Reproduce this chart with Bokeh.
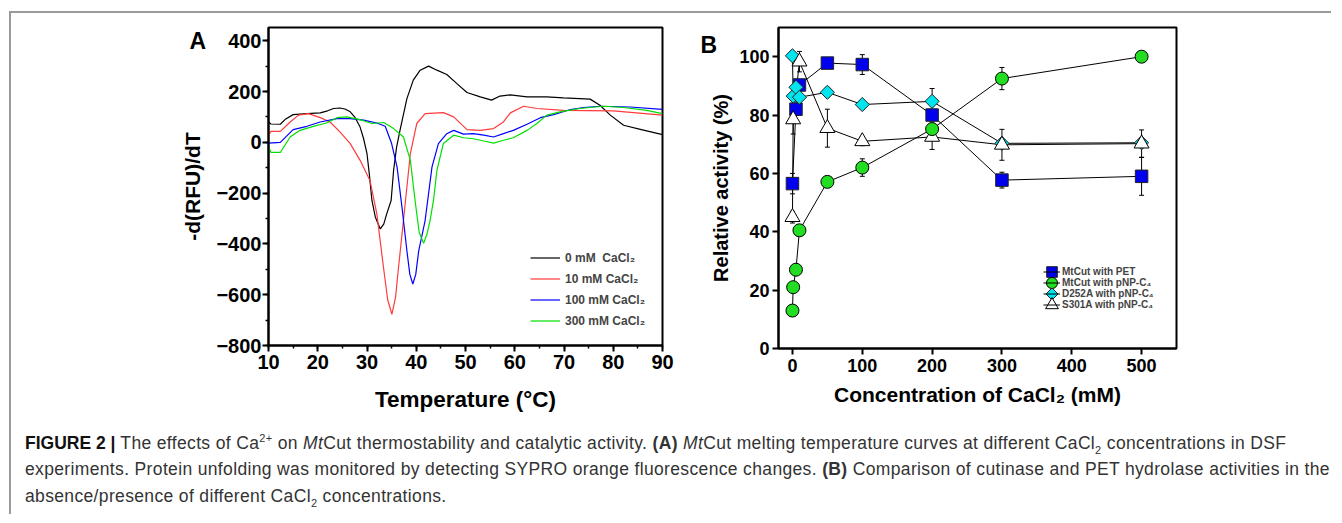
import math
from bokeh.plotting import figure
from bokeh.models import (Legend, LegendItem, Whisker, TeeHead, ColumnDataSource,
                          Div, FixedTicker, SingleIntervalTicker, Range1d)
from bokeh.layouts import row, column
from bokeh.embed import file_html
from bokeh.resources import INLINE

FONT = "Liberation Sans"

# ---------------- Panel A data: -d(RFU)/dT vs temperature ----------------
temp_0mM = [10, 10.5, 12.4, 13.5, 15, 17.8, 20.5, 22, 23.2, 24.5, 25.5, 26.6, 27.6, 28.6, 29.3, 30,
            30.5, 31, 31.7, 32.7, 33.4, 34, 34.9, 35.4, 36, 36.7, 38.1, 39.4, 40.8, 42.5, 44.2, 46.2,
            48.2, 50.3, 53, 55.3, 57, 59.1, 62.5, 66.5, 69.9, 75.3, 77.3, 79.4, 82.1, 85.5, 90]
drv_0mM = [80, 72, 71, 92, 109, 113, 116, 124, 133, 135, 131, 120, 97, 60, 15, -45,
           -130, -229, -295, -341, -322, -282, -229, -111, -20, 47, 172, 245, 284, 300, 284, 267,
           232, 196, 179, 166, 182, 187, 179, 179, 175, 170, 146, 107, 67, 51, 30]

temp_10mM = [10, 10.5, 12.4, 14.4, 16.1, 18.1, 20.5, 22.5, 24.5, 26.6, 28.6, 30.6, 32, 33.35, 34.2,
             35.05, 35.8, 36.4, 37.4, 38.8, 40.1, 41.8, 45.5, 47.6, 50.3, 53, 55.7, 57.7, 59.1,
             61.8, 64.5, 69.9, 80, 90]
drv_10mM = [28, 43, 43, 80, 107, 113, 97, 80, 41, -5, -71, -150, -282, -493, -620,
            -677, -610, -493, -308, -45, 74, 113, 117, 100, 50, 47, 54, 80, 116,
            142, 133, 126, 124, 107]

temp_100mM = [10, 12.4, 15, 17.8, 20.5, 23.9, 26.6, 29.3, 32, 33.7, 35, 36.1, 37.1, 38.1, 38.7,
              39.3, 39.9, 40.5, 41.8, 43.2, 44.5, 46.2, 47.6, 49.6, 51.6, 53.7, 55.7, 57.7, 59.7,
              62.5, 65.2, 67.9, 71.3, 74, 77.3, 83.4, 90]
drv_100mM = [-3, 0, 50, 63, 80, 93, 93, 87, 76, 63, -5, -97, -255, -427, -520,
             -558, -520, -427, -308, -97, -5, 34, 47, 32, 34, 28, 21, 34, 47,
             71, 97, 109, 129, 137, 142, 139, 130]

temp_300mM = [10, 10.5, 12.4, 14.4, 16.4, 19.1, 21.8, 23.9, 25.9, 28.6, 31, 33.4, 35.4, 37.4, 38.8,
              39.8, 40.6, 41.5, 42.2, 42.8, 43.5, 44.2, 45.5, 47.6, 49.6, 51.6, 53.7, 55.7, 57.7,
              59.7, 62.5, 64.5, 66.5, 69.2, 73.2, 78, 82.1, 86.8, 90]
drv_300mM = [-15, -40, -40, 21, 47, 63, 76, 97, 100, 89, 74, 78, 54, 21, -71,
             -235, -355, -398, -360, -308, -229, -110, -5, 28, 18, 14, 5, -3, 8,
             18, 47, 74, 107, 120, 133, 142, 137, 126, 113]

series_A_labels = ["0 mM  CaCl\u2082", "10 mM CaCl\u2082", "100 mM CaCl\u2082", "300 mM CaCl\u2082"]
series_A_colors = ["#000000", "#ff3b3b", "#0000ff", "#00e000"]

# ---------------- Panel B data: relative activity vs CaCl2 ----------------
conc_pet = [0, 5, 10, 50, 100, 200, 300, 500]
act_pet = [56.5, 82, 90.3, 97.8, 97.3, 80, 57.7, 59]
err_pet = [3.5, 2, 1.5, 1.5, 3.4, 2, 2.7, 6.5]

conc_c4 = [0, 1, 5, 10, 50, 100, 200, 300, 500]
act_c4 = [13, 21, 27, 40.5, 57.1, 62, 75.2, 92.5, 100]
err_c4 = [1.5, 1.5, 1.5, 1, 1, 3, 2, 3.8, 0.5]

conc_d252a = [0, 1, 5, 10, 50, 100, 200, 300, 500]
act_d252a = [100.3, 86.5, 89.5, 86.1, 87.8, 83.6, 84.7, 70.3, 70.5]
err_d252a = [0.5, 1.5, 1.5, 1.5, 1.5, 1.5, 4.4, 1, 1]

conc_s301a = [0, 1, 10, 50, 100, 200, 300, 500]
act_s301a = [45, 78.5, 98.3, 75.5, 71, 72.5, 69.8, 70.2]
err_s301a = [2, 5, 3.5, 6.5, 1.5, 4.3, 5.3, 4.7]

series_B_labels = ["MtCut with PET", "MtCut with pNP-C\u2084", "D252A with pNP-C\u2084", "S301A with pNP-C\u2084"]


def style_axes(p, tick_size, xlabel_size, ylabel_size):
    for ax in (p.xaxis[0], p.yaxis[0]):
        ax.axis_line_width = 2
        ax.major_tick_line_width = 2
        ax.minor_tick_line_width = 1.5
        ax.major_tick_in = 0
        ax.major_tick_out = 6
        ax.minor_tick_in = 0
        ax.minor_tick_out = 3
        ax.major_label_text_font = FONT
        ax.major_label_text_font_style = "bold"
        ax.major_label_text_font_size = tick_size
        ax.major_label_text_color = "black"
        ax.axis_label_text_font = FONT
        ax.axis_label_text_font_style = "bold"
        ax.axis_label_text_color = "black"
    p.xaxis.axis_label_text_font_size = xlabel_size
    p.yaxis.axis_label_text_font_size = ylabel_size
    p.xgrid.visible = False
    p.ygrid.visible = False
    p.outline_line_color = "black"
    p.outline_line_width = 2
    p.outline_line_alpha = 1


def panel_letter(p, letter, offset, standoff):
    p.title.text = letter
    p.title.align = "left"
    p.title.offset = offset
    p.title.standoff = standoff
    p.title.vertical_align = "bottom"
    p.title.text_font = FONT
    p.title.text_font_style = "bold"
    p.title.text_font_size = "23px"
    p.title.text_color = "black"


# ---------------- Panel A ----------------
pA = figure(frame_width=394, frame_height=318, min_border_left=257, min_border_right=38,
            min_border_top=14, min_border_bottom=75,
            x_range=Range1d(10, 90), y_range=Range1d(-800, 452),
            output_backend="svg", toolbar_location=None,
            x_axis_label="Temperature (\u00b0C)", y_axis_label="-d(RFU)/dT")
style_axes(pA, "20px", "22.5px", "21px")
pA.xaxis.ticker = SingleIntervalTicker(interval=10, num_minor_ticks=2)
pA.yaxis.ticker = SingleIntervalTicker(interval=200, num_minor_ticks=2)
pA.xaxis.major_label_standoff = 3
pA.yaxis.major_label_standoff = 1
pA.xaxis.axis_label_standoff = 15
pA.yaxis.axis_label_standoff = 9
panel_letter(pA, "A", -79, -53)

a_items = []
for t, d, lab, col in zip([temp_0mM, temp_10mM, temp_100mM, temp_300mM],
                          [drv_0mM, drv_10mM, drv_100mM, drv_300mM],
                          series_A_labels, series_A_colors):
    r = pA.line(t, d, line_color=col, line_width=1.2)
    a_items.append(LegendItem(label=lab, renderers=[r]))

legA = Legend(items=a_items, location=(262, 14), background_fill_alpha=0, border_line_alpha=0,
              label_text_font=FONT, label_text_font_style="bold", label_text_font_size="12px",
              glyph_width=30, glyph_height=21, label_height=21, spacing=0, label_standoff=5,
              padding=0, margin=0)
pA.add_layout(legA)

# ---------------- Panel B ----------------
B_FW, B_FH = 398, 321
B_X0, B_X1, B_Y0, B_Y1 = -20, 550, 0, 110
pB = figure(frame_width=B_FW, frame_height=B_FH, min_border_left=78, min_border_right=150,
            min_border_top=14, min_border_bottom=72,
            x_range=Range1d(B_X0, B_X1), y_range=Range1d(B_Y0, B_Y1),
            output_backend="svg", toolbar_location=None,
            x_axis_label="Concentration of CaCl\u2082 (mM)", y_axis_label="Relative activity (%)")
style_axes(pB, "18px", "21px", "20px")
pB.xaxis.ticker = FixedTicker(ticks=[0, 100, 200, 300, 400, 500])
pB.yaxis.ticker = FixedTicker(ticks=[0, 20, 40, 60, 80, 100])
pB.xaxis.major_label_standoff = 4
pB.yaxis.major_label_standoff = 3
pB.xaxis.axis_label_standoff = 8
pB.yaxis.axis_label_standoff = 4
panel_letter(pB, "B", -78, -61)


def series(conc, act, err):
    lo = [a - e for a, e in zip(act, err)]
    hi = [a + e for a, e in zip(act, err)]
    return ColumnDataSource(dict(x=conc, y=act, lower=lo, upper=hi))


src_pet = series(conc_pet, act_pet, err_pet)
src_c4 = series(conc_c4, act_c4, err_c4)
src_d = series(conc_d252a, act_d252a, err_d252a)
src_s = series(conc_s301a, act_s301a, err_s301a)

lines = {}
for key, src in [("pet", src_pet), ("c4", src_c4), ("d", src_d), ("s", src_s)]:
    lines[key] = pB.line("x", "y", source=src, line_color="black", line_width=1)

MARKERS = [  # legend order: PET, pNP-C4, D252A, S301A
    dict(marker="square", size=12.5, angle=0, fill_color="#0000ee", line_color="#222222"),
    dict(marker="circle", size=13, angle=0, fill_color="#22dd22", line_color="black"),
    dict(marker="square", size=10, angle=math.pi / 4, fill_color="#00e5ee", line_color="#222222"),
    dict(marker="triangle", size=15, angle=0, fill_color="white", line_color="black"),
]

m_pet = pB.scatter("x", "y", source=src_pet, line_width=1, **MARKERS[0])
m_d = pB.scatter("x", "y", source=src_d, line_width=1, **MARKERS[2])
m_s = pB.scatter("x", "y", source=src_s, line_width=1, **MARKERS[3])
m_c4 = pB.scatter("x", "y", source=src_c4, line_width=1, **MARKERS[1])

for src in (src_pet, src_c4, src_d, src_s):
    pB.add_layout(Whisker(base="x", upper="upper", lower="lower", source=src,
                          line_color="black", line_width=1,
                          upper_head=TeeHead(size=5, line_color="black", line_width=1),
                          lower_head=TeeHead(size=5, line_color="black", line_width=1)))

# legend: text + line segments from Bokeh's Legend, full-size markers overlaid on it
LEG_X, LEG_Y, LEG_GW, LEG_ROW = 265, 38, 17, 11
legB = Legend(items=[LegendItem(label=series_B_labels[i], renderers=[lines[k]])
                     for i, k in enumerate(["pet", "c4", "d", "s"])],
              location=(LEG_X, LEG_Y), background_fill_alpha=0, border_line_alpha=0,
              label_text_font=FONT, label_text_font_style="bold", label_text_font_size="10px",
              glyph_width=LEG_GW, glyph_height=LEG_ROW, label_height=LEG_ROW, spacing=0,
              label_standoff=2, padding=0, margin=0)
pB.add_layout(legB)

leg_cx = B_X0 + (LEG_X + LEG_GW / 2) * (B_X1 - B_X0) / B_FW
for i, mk in enumerate(MARKERS):
    cy_px = LEG_Y + LEG_ROW * (len(MARKERS) - i - 0.5)
    cy = B_Y0 + cy_px * (B_Y1 - B_Y0) / B_FH
    sz = dict(mk)
    sz["size"] = mk["size"] * 0.85
    pB.scatter([leg_cx], [cy], line_width=1, level="overlay", **sz)

caption = Div(text=(
    '<div style="font-family:\'Liberation Sans\',Arial,sans-serif;font-size:17.5px;line-height:26.3px;'
    'letter-spacing:0.35px;color:#333;padding-left:9px;margin-top:5px;white-space:nowrap;">'
    '<b style="color:#111;letter-spacing:0">FIGURE 2 |</b> The effects of Ca<sup style="font-size:11px;line-height:0">2+</sup> on '
    '<i>Mt</i>Cut thermostability and catalytic activity. <b>(A)</b> <i>Mt</i>Cut melting temperature curves '
    'at different CaCl<sub style="font-size:11px;line-height:0">2</sub> concentrations in DSF<br>'
    'experiments. Protein unfolding was monitored by detecting SYPRO orange fluorescence changes. '
    '<b>(B)</b> Comparison of cutinase and PET hydrolase activities in the<br>'
    'absence/presence of different CaCl<sub style="font-size:11px;line-height:0">2</sub> concentrations.'
    '</div>'), width=1310, height=84)

layout = column(row(pA, pB), caption,
                styles={"border-top": "2px solid #9a9a9a", "border-left": "2px solid #9a9a9a",
                        "margin-top": "11px", "margin-left": "9px"})

open("out.html", "w").write(file_html(layout, INLINE))
